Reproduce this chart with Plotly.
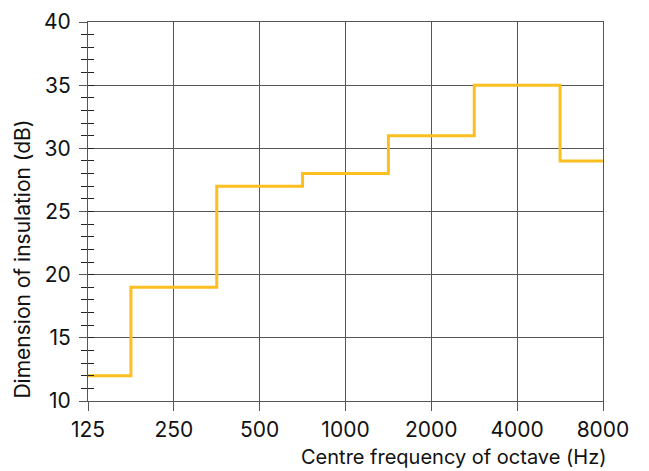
import plotly.graph_objects as go

bands = ["125", "250", "500", "1000", "2000", "4000", "8000"]
insulation_db = [12, 19, 27, 28, 31, 35, 29]
y_ticks = [10, 15, 20, 25, 30, 35, 40]

GRID = "#555555"
LINE = "#FDBF1F"
FONT = "Inter"

xpos = list(range(len(bands)))

fig = go.Figure()
fig.add_trace(go.Scatter(
    x=xpos, y=insulation_db, mode="lines",
    line=dict(shape="hvh", color=LINE, width=3),
    hoverinfo="skip", showlegend=False,
))
# invisible trace to make the overlay axis (inside minor ticks) render
fig.add_trace(go.Scatter(x=[0], y=[10], yaxis="y2", mode="markers",
                         marker=dict(opacity=0), showlegend=False, hoverinfo="skip"))

fig.update_layout(
    width=641, height=463,
    margin=dict(l=80, r=46, t=14, b=70, autoexpand=False),
    paper_bgcolor="white", plot_bgcolor="white",
    font=dict(family=FONT, size=21, color="#111"),
    xaxis=dict(
        range=[0, 6], tickvals=xpos, ticktext=bands,
        showgrid=True, gridcolor=GRID, gridwidth=1,
        ticks="outside", ticklen=9, tickcolor=GRID, tickwidth=1,
        showline=True, linecolor=GRID, linewidth=1, mirror=True,
        zeroline=False, tickfont=dict(size=21), ticklabelstandoff=1,
        automargin=False,
    ),
    yaxis=dict(
        range=[10, 40], tickvals=y_ticks,
        showgrid=True, gridcolor=GRID, gridwidth=1,
        ticks="outside", ticklen=8, tickcolor=GRID, tickwidth=1,
        minor=dict(dtick=1, ticks="outside", ticklen=6, tickcolor="#222", showgrid=False),
        showline=True, linecolor=GRID, linewidth=1, mirror=True,
        zeroline=False, tickfont=dict(size=21), ticklabelstandoff=4,
        automargin=False,
    ),
    yaxis2=dict(
        range=[10, 40], overlaying="y", side="left",
        tickvals=y_ticks, showticklabels=False, showgrid=False,
        ticks="inside", ticklen=6, tickcolor="#222",
        minor=dict(dtick=1, ticks="inside", ticklen=6, tickcolor="#222", showgrid=False),
        showline=False, zeroline=False, automargin=False,
    ),
    annotations=[
        dict(text="Dimension of insulation (dB)", xref="paper", yref="paper",
             x=-0.128, y=0.0, xanchor="center", yanchor="bottom", textangle=-90,
             showarrow=False, font=dict(size=21)),
        dict(text="Centre frequency of octave (Hz)", xref="paper", yref="paper",
             x=1.01, y=-0.148, xanchor="right", yanchor="middle",
             showarrow=False, font=dict(size=20)),
    ],
)

fig.write_html("out.html")
